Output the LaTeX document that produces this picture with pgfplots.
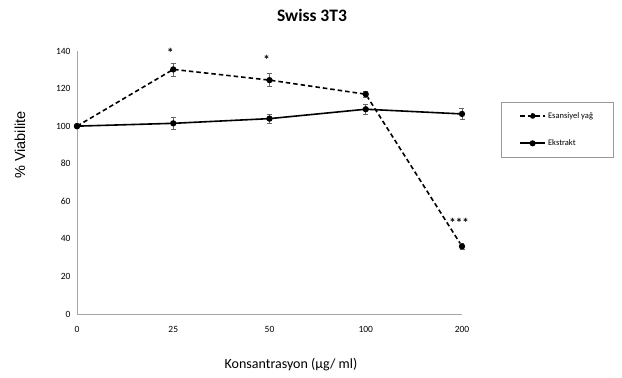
\documentclass[border=0pt]{standalone}
\usepackage{pgfplots}
\pgfplotsset{compat=1.18}
\usepackage{fontspec}
\setmainfont{Carlito}
\newfontfamily\arialf{Liberation Sans}
\begin{document}
\begin{tikzpicture}[x=1pt,y=1pt]
\path[use as bounding box] (-77,-64) rectangle (545,314);
\begin{axis}[
  at={(0,0)}, anchor=origin,
  scale only axis, width=385pt, height=263pt,
  xmin=0, xmax=4, ymin=0, ymax=140,
  xtick={0,1,2,3,4}, xticklabels={0,25,50,100,200},
  ytick={0,20,...,140},
  axis x line*=bottom, axis y line*=left,
  axis line style={draw=gray!70, line width=0.8pt, -},
  major tick length=0pt,
  tick label style={font=\fontsize{9.5}{10}\selectfont},
  /pgf/number format/assume math mode=true,
  xticklabel style={yshift=-9pt},
  yticklabel style={xshift=-3pt},
  clip=false,
  legend style={at={(1.101,0.806)}, anchor=north west, draw=gray!80,
    font=\fontsize{8.5}{9}\selectfont, inner xsep=18pt, inner ysep=8pt, row sep=16pt, legend cell align=left},
  legend image code/.code={\draw[#1] (0pt,0pt) -- (25pt,0pt); \fill (12.5pt,0pt) circle (2pt);},
]
\addlegendimage{black, line width=1.6pt, dash pattern=on 4.5pt off 3pt}
\addlegendentry{Esansiyel yağ}
\addlegendimage{black, line width=2pt}
\addlegendentry{Ekstrakt}
\addplot[forget plot, black, line width=1.6pt, dash pattern=on 4.5pt off 3pt, mark=*, mark size=2.3pt,
  mark options={solid},
  error bars/.cd, y dir=both, y explicit,
  error bar style={gray!80!black, line width=0.6pt, solid},
  error mark options={rotate=90, mark size=2.5pt, gray!80!black, line width=0.6pt, solid}]
  coordinates {(0,100) +- (0,0) (1,130.2) +- (0,3.5) (2,124.5) +- (0,3.5) (3,117) +- (0,1.5) (4,36) +- (0,1.5)};
\addplot[forget plot, black, line width=1.6pt, mark=*, mark size=2.3pt,
  error bars/.cd, y dir=both, y explicit,
  error bar style={gray!80!black, line width=0.6pt},
  error mark options={rotate=90, mark size=2.5pt, gray!80!black, line width=0.6pt}]
  coordinates {(0,100) +- (0,0) (1,101.5) +- (0,3) (2,104) +- (0,2.5) (3,109) +- (0,2.5) (4,106.5) +- (0,3)};
\node[font=\bfseries\fontsize{13}{13}\selectfont] at (axis cs:0.97,139) {*};
\node[font=\bfseries\fontsize{13}{13}\selectfont] at (axis cs:1.97,135.5) {*};
\node[font=\bfseries\fontsize{13}{13}\selectfont] at (axis cs:3.97,48.5) {***};
\end{axis}
\node[font=\bfseries\fontsize{17.5}{19}\selectfont] at (235,299) {Swiss 3T3};
\node[font=\fontsize{14}{16}\selectfont] at (214,-51) {Konsantrasyon (µg/ ml)};
\node[font=\arialf\fontsize{14.5}{16}\selectfont, rotate=90] at (-57,169) {\% Viabilite};
\end{tikzpicture}
\end{document}
